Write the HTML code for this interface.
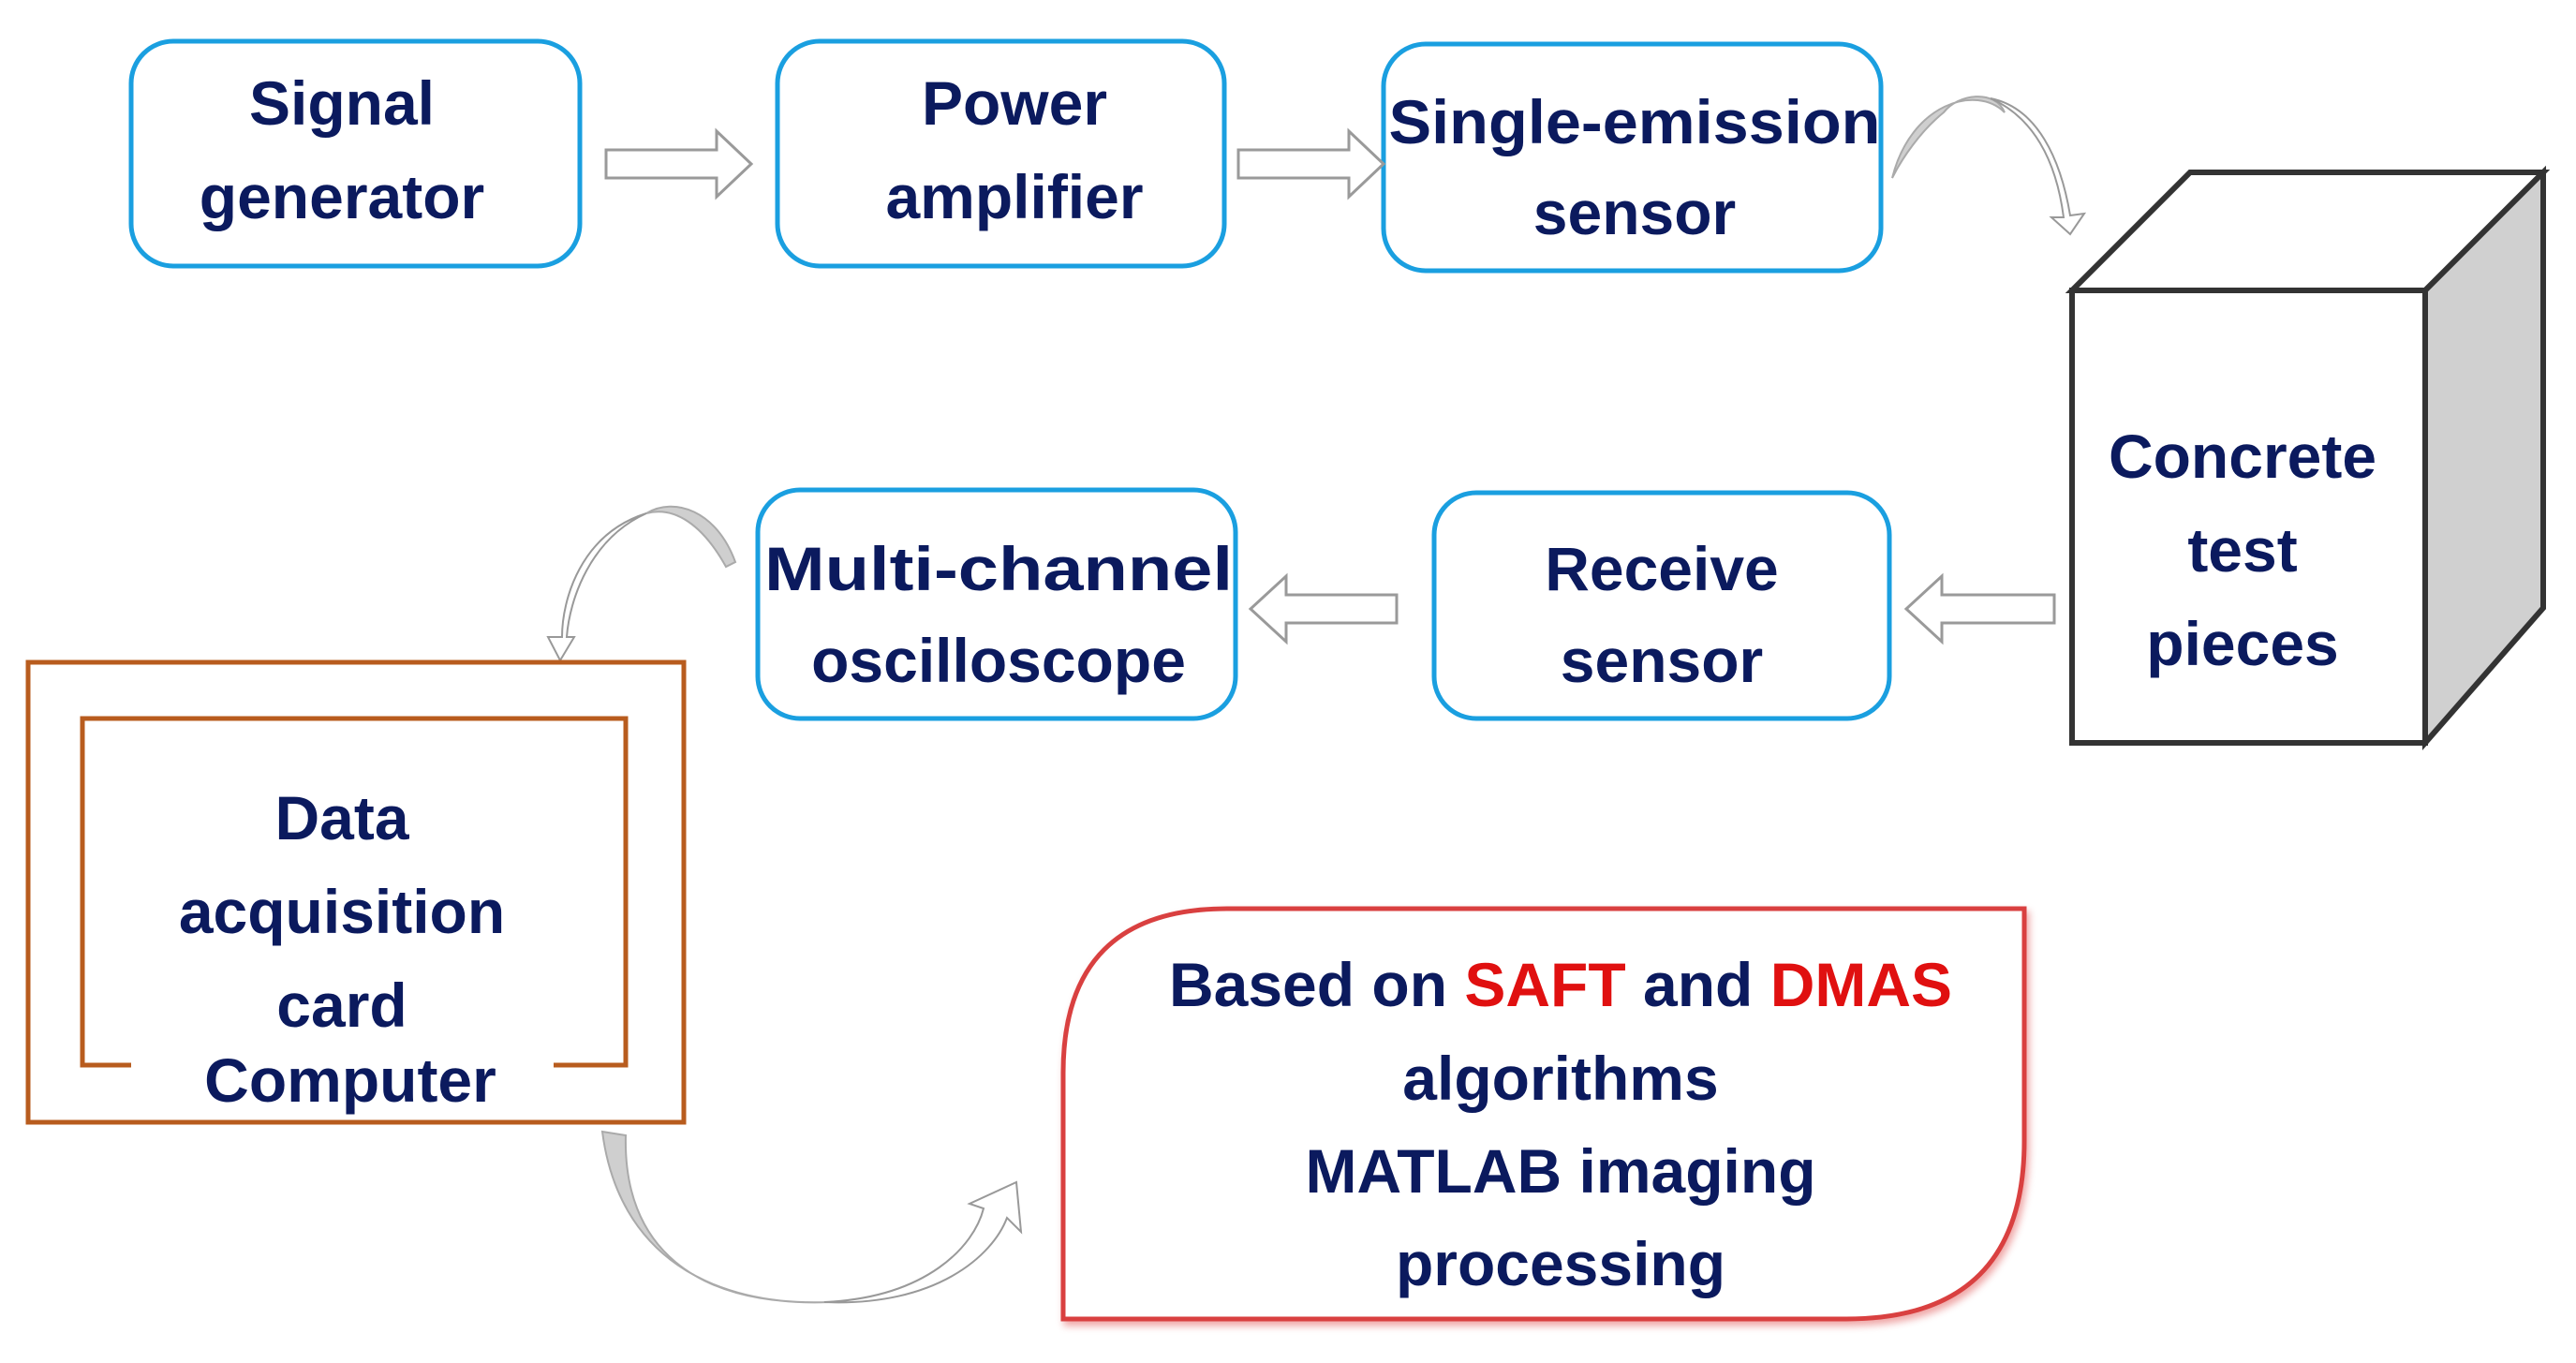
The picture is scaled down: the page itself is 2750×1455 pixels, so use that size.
<!DOCTYPE html>
<html><head><meta charset="utf-8"><style>
html,body{margin:0;padding:0;background:#fff;}
svg{display:block}
text{font-family:"Liberation Sans",sans-serif;font-weight:bold;fill:#0b1a5e;text-anchor:middle;font-size:66px;}
</style></head><body>
<svg width="2750" height="1455" viewBox="0 0 2750 1455" xmlns="http://www.w3.org/2000/svg">
<defs>
<marker id="ah" viewBox="0 0 10 10" refX="5" refY="5" markerWidth="1" markerHeight="1"/>
</defs>
<!-- top row boxes -->
<g fill="#fff" stroke="#1a9fe0" stroke-width="5">
<rect x="140" y="44" width="479" height="240" rx="45"/>
<rect x="830" y="44" width="477" height="240" rx="45"/>
<rect x="1477" y="47" width="531" height="242" rx="45"/>
<rect x="809" y="523" width="510" height="244" rx="45"/>
<rect x="1531" y="526" width="486" height="241" rx="45"/>
</g>
<g>
<text x="365" y="133">Signal</text>
<text x="365" y="233">generator</text>
<text x="1083" y="133">Power</text>
<text x="1083" y="233">amplifier</text>
<text x="1745" y="153" textLength="525" lengthAdjust="spacingAndGlyphs">Single-emission</text>
<text x="1745" y="250">sensor</text>
<text x="1066" y="630" textLength="500" lengthAdjust="spacingAndGlyphs">Multi-channel</text>
<text x="1066" y="728">oscilloscope</text>
<text x="1774" y="630">Receive</text>
<text x="1774" y="728">sensor</text>
</g>
<!-- straight hollow arrows -->
<g fill="#fff" stroke="#9a9a9a" stroke-width="3">
<polygon points="647,160 765,160 765,140 802,175 765,210 765,190 647,190"/>
<polygon points="1322,160 1440,160 1440,140 1477,175 1440,210 1440,190 1322,190"/>
<polygon points="1491,635 1373,635 1373,615 1335,650 1373,685 1373,665 1491,665"/>
<polygon points="2193,635 2073,635 2073,615 2035,650 2073,685 2073,665 2193,665"/>
</g>
<!-- cube -->
<g stroke="#333" stroke-width="6" stroke-linejoin="miter">
<polygon points="2212,310 2338,184 2715,184 2589,310" fill="#fff"/>
<polygon points="2589,310 2715,184 2715,649 2589,793" fill="#d0d0d0"/>
<rect x="2212" y="310" width="377" height="483" fill="#fff"/>
</g>
<text x="2394" y="510">Concrete</text>
<text x="2394" y="610">test</text>
<text x="2394" y="710">pieces</text>
<!-- curved arrows -->
<path d="M2020,190 C2040,110 2110,90 2140,120 C2130,95 2090,100 2075,120 C2050,140 2030,170 2020,190 Z" fill="#cfcfcf" stroke="#aaa" stroke-width="2"/>
<path d="M2125,105 C2175,115 2200,170 2210,230 L2225,228 L2210,250 L2190,232 L2203,232 C2195,170 2170,125 2125,105 Z" fill="#fff" stroke="#999" stroke-width="2"/>
<path d="M785,600 C765,545 720,530 690,548 C720,540 750,560 775,605 Z" fill="#cfcfcf" stroke="#aaa" stroke-width="2"/>
<path d="M690,548 C620,570 600,640 600,680 L585,680 L598,705 L613,680 L605,680 C608,640 630,575 690,548 Z" fill="#fff" stroke="#999" stroke-width="2"/>
<path d="M643,1208 L668,1212 C665,1330 740,1395 885,1390 C760,1395 660,1340 643,1208 Z" fill="#cfcfcf" stroke="#aaa" stroke-width="2"/>
<path d="M880,1390 C990,1385 1040,1330 1050,1290 L1035,1285 L1085,1262 L1090,1315 L1075,1300 C1060,1340 1000,1395 880,1390 Z" fill="#fff" stroke="#999" stroke-width="2"/>
<!-- computer -->
<rect x="30" y="707" width="700" height="491" fill="none" stroke="#b85c1e" stroke-width="5"/>
<path d="M140,1137 L88,1137 L88,767 L668,767 L668,1137 L591,1137" fill="none" stroke="#b85c1e" stroke-width="5"/>
<text x="365" y="896">Data</text>
<text x="365" y="996">acquisition</text>
<text x="365" y="1096">card</text>
<text x="374" y="1176">Computer</text>
<!-- red box -->
<path d="M1310,970 L2161,970 L2161,1218 Q2161,1408 1971,1408 L1135,1408 L1135,1145 Q1135,970 1310,970 Z" fill="#fff" stroke="#d94040" stroke-width="5" style="filter:drop-shadow(3px 5px 4px rgba(220,60,60,0.45))"/>
<text x="1666" y="1074">Based on <tspan fill="#e01010">SAFT</tspan> and <tspan fill="#e01010">DMAS</tspan></text>
<text x="1666" y="1174">algorithms</text>
<text x="1666" y="1273">MATLAB imaging</text>
<text x="1666" y="1372">processing</text>
</svg>
</body></html>
